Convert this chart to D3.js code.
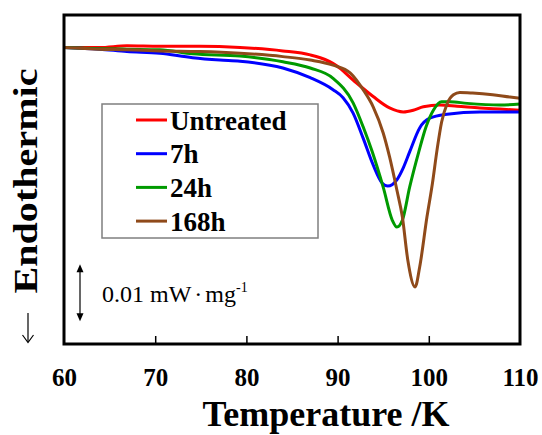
<!DOCTYPE html>
<html>
<head>
<meta charset="utf-8">
<script src="https://cdn.jsdelivr.net/npm/d3@7"></script>
<style>
  html, body { margin: 0; padding: 0; background: #fff; }
  svg { display: block; }
  text { font-family: "Liberation Serif", "Times New Roman", serif; }
</style>
</head>
<body>
<svg id="chart" width="542" height="435"></svg>
<script>
// DSC heat-flow traces (mW/mg, relative offset) versus temperature (K)
const seriesNames = ["Untreated", "7h", "24h", "168h"];
const seriesColors = ["#ff0000", "#0000ff", "#009a00", "#8f4a1a"];

const tempUntreated = [60.0, 63.9, 66.9, 70.5, 74.9, 79.3, 84.0, 87.0, 88.1, 89.9, 91.7, 93.9, 95.7, 97.2, 98.3, 99.4, 101.2, 103.1, 105.6, 107.8, 110.0];
const heatUntreated = [-0.0001, -0.0001, 0.0002, 0.0001, 0.0001, -0.0001, -0.0007, -0.0014, -0.0019, -0.0033, -0.0058, -0.0087, -0.0107, -0.0114, -0.0111, -0.0105, -0.0102, -0.0104, -0.0107, -0.0109, -0.0111];

const temp7h = [60.0, 63.9, 66.9, 70.5, 74.1, 77.1, 79.3, 84.0, 87.0, 89.5, 90.6, 91.7, 92.8, 93.9, 94.9, 95.5, 96.5, 97.2, 97.9, 99.0, 100.1, 102.0, 105.6, 110.0];
const heat7h = [-0.0001, -0.0004, -0.0008, -0.0011, -0.0019, -0.0023, -0.0025, -0.0037, -0.0054, -0.0075, -0.0089, -0.0116, -0.0160, -0.0207, -0.0239, -0.0244, -0.0233, -0.0212, -0.0184, -0.0142, -0.0125, -0.0118, -0.0114, -0.0114];

const temp24h = [60.0, 63.9, 66.9, 70.5, 74.1, 79.3, 84.0, 87.0, 89.5, 91.7, 92.8, 93.8, 95.0, 96.0, 96.5, 97.1, 97.9, 98.9, 99.7, 100.5, 101.4, 102.3, 104.2, 107.8, 110.0];
const heat24h = [-0.0001, -0.0003, -0.0004, -0.0005, -0.0012, -0.0016, -0.0026, -0.0037, -0.0055, -0.0098, -0.0140, -0.0184, -0.0246, -0.0304, -0.0316, -0.0304, -0.0246, -0.0184, -0.0140, -0.0111, -0.0096, -0.0096, -0.0099, -0.0102, -0.0100];

const temp168h = [60.0, 63.9, 66.9, 70.5, 74.9, 79.3, 84.0, 87.0, 89.5, 91.4, 92.8, 93.9, 95.0, 95.7, 96.5, 97.1, 97.7, 98.5, 99.0, 99.8, 100.4, 100.9, 101.4, 102.0, 102.7, 103.4, 104.8, 107.0, 108.9, 110.0];
const heat168h = [-0.0001, -0.0004, -0.0005, -0.0007, -0.0008, -0.0011, -0.0017, -0.0023, -0.0032, -0.0046, -0.0075, -0.0105, -0.0151, -0.0193, -0.0251, -0.0298, -0.0374, -0.0421, -0.0386, -0.0298, -0.0239, -0.0181, -0.0132, -0.0100, -0.0084, -0.0080, -0.0081, -0.0084, -0.0088, -0.0090];

const xTicks = [60, 70, 80, 90, 100, 110];
const scaleBarValue = 0.01;               // mW/mg
const scaleBarLabel = "0.01 mW";

const temps = [tempUntreated, temp7h, temp24h, temp168h];
const heats = [heatUntreated, heat7h, heat24h, heat168h];

const svg = d3.select("#chart");
const frame = { left: 64, right: 520, top: 15, bottom: 344 };

const x = d3.scaleLinear().domain([60, 110]).range([frame.left, frame.right]);
const y = d3.scaleLinear().domain([-0.0521, 0.0056]).range([frame.bottom, frame.top]);

svg.append("defs").append("clipPath").attr("id", "plotClip")
  .append("rect")
  .attr("x", frame.left).attr("y", frame.top)
  .attr("width", frame.right - frame.left).attr("height", frame.bottom - frame.top);

// curves
const line = d3.line()
  .x(d => x(d[0]))
  .y(d => y(d[1]))
  .curve(d3.curveMonotoneX);

const curves = svg.append("g").attr("clip-path", "url(#plotClip)");
seriesNames.forEach((name, i) => {
  const pts = temps[i].map((t, j) => [t, heats[i][j]]);
  curves.append("path")
    .datum(pts)
    .attr("d", line)
    .attr("fill", "none")
    .attr("stroke", seriesColors[i])
    .attr("stroke-width", 3)
    .attr("stroke-linejoin", "round")
    .attr("stroke-linecap", "round");
});

// bottom axis: inward ticks, labels below
const xAxis = d3.axisBottom(x)
  .tickValues(xTicks)
  .tickSize(-8)
  .tickPadding(0)
  .tickFormat(d3.format("d"));
const gx = svg.append("g").attr("transform", `translate(0,${frame.bottom})`).call(xAxis);
gx.select(".domain").remove();
gx.selectAll(".tick line")
  .attr("stroke", "#000").attr("stroke-width", 1.5)
  .filter(d => d === 60 || d === 110).remove();
gx.selectAll(".tick text")
  .attr("y", 42)
  .attr("dy", null)
  .attr("fill", "#000")
  .style("font-family", '"Liberation Serif", "Times New Roman", serif')
  .style("font-size", "25px")
  .style("font-weight", "bold");

// plot frame
svg.append("rect")
  .attr("x", frame.left).attr("y", frame.top)
  .attr("width", frame.right - frame.left).attr("height", frame.bottom - frame.top)
  .attr("fill", "none").attr("stroke", "#000").attr("stroke-width", 3);

// axis titles
svg.append("text")
  .attr("x", 326)
  .attr("y", 426)
  .attr("text-anchor", "middle")
  .attr("textLength", 247)
  .attr("lengthAdjust", "spacingAndGlyphs")
  .style("font-size", "35px")
  .style("font-weight", "bold")
  .text("Temperature /K");

svg.append("text")
  .attr("transform", "translate(37,181) rotate(-90)")
  .attr("text-anchor", "middle")
  .attr("textLength", 225)
  .attr("lengthAdjust", "spacingAndGlyphs")
  .style("font-size", "33px")
  .style("font-weight", "bold")
  .text("Endothermic");

// downward arrow under the y title
const arrowG = svg.append("g").attr("stroke", "#000").attr("stroke-width", 1.2).attr("fill", "none");
arrowG.append("line").attr("x1", 28).attr("y1", 313).attr("x2", 28).attr("y2", 342);
arrowG.append("path").attr("d", "M22.5,335 L28,342.5 L33.5,335");

// legend
const legend = svg.append("g");
legend.append("rect")
  .attr("x", 102).attr("y", 104).attr("width", 216).attr("height", 134)
  .attr("fill", "#fff").attr("stroke", "#7f7f7f").attr("stroke-width", 1.5);
seriesNames.forEach((name, i) => {
  const yy = 120 + i * 33.7;
  legend.append("line")
    .attr("x1", 136).attr("x2", 167).attr("y1", yy).attr("y2", yy)
    .attr("stroke", seriesColors[i]).attr("stroke-width", 3);
  legend.append("text")
    .attr("x", 170).attr("y", yy + 9.5)
    .style("font-size", "27px")
    .style("font-weight", "bold")
    .text(name);
});

// scale bar for heat flow
const barX = 80;
const barTop = y(-0.0381);
const barBottom = y(-0.0381 - scaleBarValue);
const sb = svg.append("g");
sb.append("line")
  .attr("x1", barX).attr("x2", barX).attr("y1", barTop + 6).attr("y2", barBottom - 6)
  .attr("stroke", "#000").attr("stroke-width", 1.2);
sb.append("path")
  .attr("d", `M${barX},${barTop} L${barX - 3.5},${barTop + 8} L${barX + 3.5},${barTop + 8} Z`)
  .attr("fill", "#000");
sb.append("path")
  .attr("d", `M${barX},${barBottom} L${barX - 3.5},${barBottom - 8} L${barX + 3.5},${barBottom - 8} Z`)
  .attr("fill", "#000");
const sbText = sb.append("text")
  .attr("x", 102).attr("y", 302)
  .style("font-size", "24px");
sbText.append("tspan").text(scaleBarLabel);
sbText.append("tspan").attr("dx", 3).text("\u00b7");
sbText.append("tspan").attr("dx", 3).text("mg");
sbText.append("tspan").attr("dy", -10).style("font-size", "14px").text("-1");
</script>
</body>
</html>
